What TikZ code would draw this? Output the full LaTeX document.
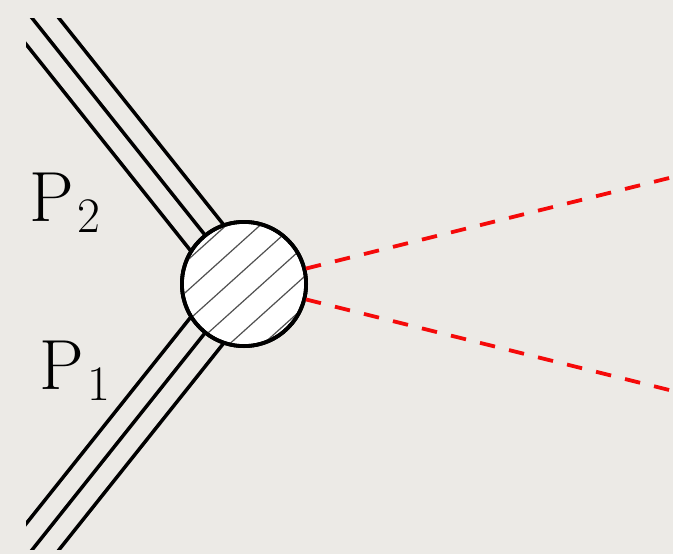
\documentclass[tikz,border=0pt]{standalone}
\usetikzlibrary{calc}
\definecolor{paper}{RGB}{236,234,230}
\definecolor{hatchgray}{RGB}{80,80,80}
\definecolor{dashred}{RGB}{245,10,10}
\newcommand{\biglabel}[1]{{\fontsize{71}{71}\selectfont P}\kern3pt\raisebox{-11pt}{\fontsize{49.7}{49.7}\selectfont #1}}
\begin{document}
\begin{tikzpicture}[x=1pt,y=-1pt,
  fermion/.style={line width=3.5pt,black},
  scalarline/.style={line width=3.8pt,dashred,dash pattern=on 15.5pt off 14.4pt},
  hatchline/.style={line width=1.2pt,hatchgray},
  blob/.style={circle,draw=black,fill=white,line width=3.8pt,minimum size=124.2pt,inner sep=0pt},
  plabel/.style={anchor=base west,inner sep=0pt,outer sep=0pt}]
\fill[paper] (0,0) rectangle (673,554);
\useasboundingbox (0,0) rectangle (673,554);
\coordinate (c) at (244,284);
\coordinate (p2far) at (-5.3,-28.8);
\coordinate (p1far) at (-5.3,596.8);
% triple lines
\begin{scope}
\clip (26,18) rectangle (673,549.5);
\foreach \k in {-1,0,1}{
  \draw[fermion] ($(c)+(\k*16.4,-\k*13.1)$) -- ($(p2far)+(\k*16.4,-\k*13.1)$);
  \draw[fermion] ($(c)+(\k*16.4,\k*13.1)$) -- ($(p1far)+(\k*16.4,\k*13.1)$);
}
\end{scope}
% far ends of the red dashed lines (page-oriented polar coordinates)
\coordinate (r2far) at ($(c)+(14:480pt)$);
\coordinate (r1far) at ($(c)+(-14:480pt)$);
\node[blob] (b) at (c) {};
\begin{scope}
\clip (c) circle (62pt);
\foreach \d in {-55.5,-32.9,-10.3,12.3,34.9,57.5}{
  \draw[hatchline] ($(c)+(\d*0.669,\d*0.743)+(-80*0.743,80*0.669)$) -- ($(c)+(\d*0.669,\d*0.743)+(80*0.743,-80*0.669)$);
}
\end{scope}
\draw[black,line width=3.8pt] (b.center) circle (62.1pt);
\draw[scalarline] ($(b.center)!63.8pt!(b.14)$) -- (r2far);
\draw[scalarline] ($(b.center)!63.8pt!(b.-14)$) -- (r1far);
\node[plabel] (P2) at (29.5,221.7) {\biglabel{2}};
\node[plabel] (P1) at (39.5,389) {\biglabel{1}};
\end{tikzpicture}
\end{document}
